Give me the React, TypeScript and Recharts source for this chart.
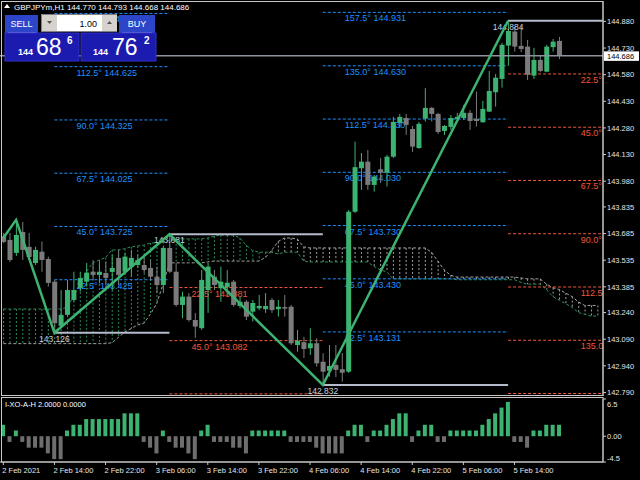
import React from 'react';
import { ComposedChart, Bar, Line, XAxis, YAxis, ReferenceLine, Cell } from 'recharts';

const FONT = '"Liberation Sans", Arial, sans-serif';
const GREEN = '#3cb371';
const GRAY = '#7b7b7b';
const CLOUD_GREEN = '#2e8b57';
const CLOUD_GRAY = '#a0a0a0';
const BLUE = '#1e90ff';
const RED = '#f0573a';
const LEVEL = '#b4bccb';
const TEXT = '#e4e4e4';
const FRAME = '#c8c8c8';

// GBPJPYm H1, one value per bar starting 2 Feb 2021 06:00
const opens = [
  143.669, 143.649, 143.576, 143.694, 143.610, 143.519, 143.583, 143.542, 143.414, 143.165,
  143.227, 143.311, 143.379, 143.414, 143.470, 143.452, 143.463, 143.469, 143.548, 143.470,
  143.499, 143.508, 143.508, 143.491, 143.442, 143.395, 143.604, 143.470, 143.283, 143.330,
  143.198, 143.152, 143.367, 143.442, 143.377, 143.383, 143.414, 143.277, 143.301, 143.245,
  143.264, 143.259, 143.311, 143.259, 143.271, 143.273, 143.057, 143.073, 143.039, 143.067,
  142.963, 142.912, 142.945, 142.921, 142.907, 143.808, 144.053, 144.090, 143.959, 144.047,
  144.028, 144.118, 144.308, 144.336, 144.274, 144.167, 144.332, 144.393, 144.359, 144.263,
  144.286, 144.331, 144.336, 144.365, 144.331, 144.312, 144.372, 144.481, 144.556, 144.744,
  144.823, 144.742, 144.738, 144.575, 144.663, 144.597, 144.735, 144.770,
];
const highs = [
  143.688, 143.688, 143.762, 143.751, 143.688, 143.611, 143.640, 143.555, 143.424, 143.367,
  143.424, 143.470, 143.470, 143.519, 143.536, 143.527, 143.527, 143.565, 143.593, 143.576,
  143.593, 143.565, 143.548, 143.536, 143.499, 143.611, 143.681, 143.519, 143.358, 143.350,
  143.238, 143.480, 143.519, 143.480, 143.499, 143.480, 143.424, 143.330, 143.311, 143.311,
  143.339, 143.350, 143.322, 143.311, 143.339, 143.283, 143.142, 143.104, 143.152, 143.095,
  143.011, 143.057, 143.057, 143.012, 143.818, 144.203, 144.139, 144.156, 144.015, 144.111,
  144.128, 144.342, 144.359, 144.359, 144.291, 144.314, 144.504, 144.398, 144.365, 144.297,
  144.353, 144.365, 144.410, 144.381, 144.485, 144.432, 144.601, 144.584, 144.759, 144.884,
  144.851, 144.851, 144.776, 144.731, 144.687, 144.748, 144.781, 144.793,
];
const lows = [
  143.632, 143.525, 143.559, 143.536, 143.536, 143.508, 143.470, 143.386, 143.126, 143.161,
  143.217, 143.301, 143.358, 143.386, 143.424, 143.405, 143.395, 143.367, 143.395, 143.452,
  143.442, 143.491, 143.463, 143.424, 143.350, 143.350, 143.463, 143.273, 143.208, 143.189,
  143.097, 143.142, 143.238, 143.367, 143.301, 143.330, 143.273, 143.264, 143.198, 143.189,
  143.254, 143.238, 143.238, 143.217, 143.217, 143.057, 143.020, 142.983, 143.001, 142.935,
  142.832, 142.879, 142.877, 142.851, 142.900, 143.801, 143.931, 143.931, 143.921, 143.970,
  143.950, 144.111, 144.280, 144.241, 144.145, 144.162, 144.316, 144.316, 144.246, 144.241,
  144.269, 144.325, 144.325, 144.269, 144.288, 144.310, 144.370, 144.400, 144.507, 144.631,
  144.710, 144.707, 144.550, 144.556, 144.594, 144.594, 144.710, 144.668,
];
const closes = [
  143.638, 143.536, 143.677, 143.593, 143.553, 143.593, 143.536, 143.407, 143.180, 143.227,
  143.367, 143.367, 143.435, 143.465, 143.452, 143.470, 143.435, 143.491, 143.452, 143.555,
  143.548, 143.536, 143.480, 143.442, 143.395, 143.604, 143.470, 143.283, 143.330, 143.198,
  143.161, 143.424, 143.499, 143.395, 143.414, 143.408, 143.283, 143.301, 143.217, 143.294,
  143.277, 143.277, 143.254, 143.273, 143.262, 143.067, 143.082, 143.035, 143.067, 142.954,
  142.907, 142.939, 142.917, 142.901, 143.808, 144.059, 144.090, 143.959, 144.006, 144.028,
  144.118, 144.314, 144.342, 144.297, 144.175, 144.303, 144.393, 144.359, 144.257, 144.291,
  144.336, 144.342, 144.365, 144.319, 144.319, 144.387, 144.488, 144.563, 144.748, 144.826,
  144.738, 144.725, 144.579, 144.663, 144.601, 144.738, 144.766, 144.686,
];

// Ichimoku cloud, shifted forward so it runs past the last candle
const spanA = [
  143.260, 143.260, 143.260, 143.260, 143.260, 143.260, 143.260, 143.260, 143.260, 143.260,
  143.270, 143.330, 143.400, 143.470, 143.520, 143.536, 143.550, 143.593, 143.593, 143.600,
  143.610, 143.615, 143.620, 143.632, 143.632, 143.640, 143.645, 143.650, 143.655, 143.655,
  143.655, 143.655, 143.660, 143.670, 143.677, 143.677, 143.677, 143.660, 143.620, 143.590,
  143.580, 143.580, 143.580, 143.570, 143.580, 143.580, 143.580, 143.530, 143.525, 143.525,
  143.525, 143.525, 143.525, 143.525, 143.525, 143.525, 143.525, 143.525, 143.500, 143.480,
  143.470, 143.430, 143.430, 143.430, 143.430, 143.430, 143.430, 143.430, 143.430, 143.430,
  143.430, 143.425, 143.425, 143.425, 143.425, 143.425, 143.425, 143.425, 143.425, 143.425,
  143.425, 143.410, 143.400, 143.400, 143.400, 143.370, 143.330, 143.310, 143.290, 143.270,
  143.240, 143.230, 143.220, 143.220,
];
const spanB = [
  143.065, 143.065, 143.065, 143.065, 143.065, 143.065, 143.065, 143.065, 143.065, 143.065,
  143.065, 143.065, 143.065, 143.065, 143.065, 143.065, 143.065, 143.070, 143.100, 143.130,
  143.150, 143.170, 143.180, 143.230, 143.290, 143.400, 143.520, 143.520, 143.520, 143.520,
  143.520, 143.520, 143.525, 143.530, 143.530, 143.530, 143.530, 143.530, 143.530, 143.530,
  143.530, 143.550, 143.590, 143.640, 143.660, 143.660, 143.655, 143.610, 143.604, 143.604,
  143.604, 143.604, 143.604, 143.604, 143.604, 143.604, 143.604, 143.604, 143.604, 143.604,
  143.604, 143.604, 143.604, 143.604, 143.604, 143.604, 143.604, 143.580, 143.530, 143.480,
  143.450, 143.440, 143.440, 143.440, 143.440, 143.440, 143.440, 143.440, 143.440, 143.440,
  143.440, 143.435, 143.430, 143.430, 143.430, 143.400, 143.380, 143.370, 143.350, 143.330,
  143.300, 143.280, 143.280, 143.280,
];

// I-XO-A-H histogram
const oscValues = [
  2, -1, 1, -1, -2, -2, -2, -3, -4, -4,
  1, 2, 2, 3, 3, 3, 3, 3, 3, 4,
  4, 4, -1, -2, -3, 1, -1, -2, -2, -3,
  -4, 1, 2, -1, -1, -1, -2, -2, -3, 1,
  1, 1, 1, 1, 1, -1, -1, -1, -1, -2,
  -3, -3, -3, -3, 1, 2, 2, -1, 1, 1,
  2, 3, 4, 4, -1, 1, 2, 2, -1, -1,
  1, 1, 1, 1, 1, 2, 3, 4, 5, 6,
  -1, -1, -2, 1, 1, 2, 2, 2,
];

// zigzag pivots
const pivotBars = [0, 2, 8, 26, 50, 79];
const pivotPrices = [143.660, 143.762, 143.126, 143.681, 142.832, 144.884];

// swing levels: from bar, to bar, price
const levelFrom = [8, 26, 50, 79];
const levelTo = [26, 50, 79, 93.8];
const levelPrices = [143.126, 143.681, 142.832, 144.884];

// gann fans
const gannAngles = ['22.5°', '45.0°', '67.5°', '90.0°', '112.5°', '135.0°', '157.5°'];
const gannUp1 = [143.425, 143.725, 144.025, 144.325, 144.625, 144.925];
const gannDown1 = [143.381, 143.082, 142.782];
const gannUp2 = [143.131, 143.430, 143.730, 144.030, 144.330, 144.630, 144.931];
const gannDown2 = [144.584, 144.284, 143.984, 143.684, 143.384, 143.084, 142.784];

const bidPrice = 144.686;
const priceTicks = [
  144.880, 144.730, 144.580, 144.430, 144.280, 144.130, 143.980, 143.835,
  143.685, 143.535, 143.385, 143.240, 143.090, 142.940, 142.790,
];
const oscTicks = [6.5, 0, -4.5];
const oscTickLabels = ['6.5', '0.00', '-4.5'];
const timeTickBars = [0, 8, 16, 24, 32, 40, 48, 56, 64, 72, 80];
const timeTickLabels = [
  '2 Feb 2021', '2 Feb 14:00', '2 Feb 22:00', '3 Feb 06:00', '3 Feb 14:00', '3 Feb 22:00',
  '4 Feb 06:00', '4 Feb 14:00', '4 Feb 22:00', '5 Feb 06:00', '5 Feb 14:00',
];

const X_DOMAIN: [number, number] = [-0.516, 93.85];
const PRICE_DOMAIN: [number, number] = [142.77, 144.995];

const rows = spanA.map((a, i) => {
  const p = pivotBars.indexOf(i);
  const has = i < opens.length;
  return {
    i,
    candle: has ? [lows[i], highs[i]] : null,
    open: has ? opens[i] : null,
    high: has ? highs[i] : null,
    low: has ? lows[i] : null,
    close: has ? closes[i] : null,
    cloud: [Math.min(a, spanB[i]), Math.max(a, spanB[i])],
    spanA: a,
    spanB: spanB[i],
    zz: p >= 0 ? pivotPrices[p] : null,
  };
});

const oscRows = oscValues.map((v, i) => ({ i, osc: v }));

const gannSets = [
  { from: 8, to: 26, values: gannUp1, color: BLUE, right: false },
  { from: 26, to: 50, values: gannDown1, color: RED, right: false },
  { from: 50, to: 79, values: gannUp2, color: BLUE, right: false },
  { from: 79, to: 93.8, values: gannDown2, color: RED, right: true },
];

const CandleShape = (props: any) => {
  const { x, y, width, height, payload } = props;
  if (!payload || payload.open == null) return null;
  const { open, close, high, low } = payload;
  const top = height >= 0 ? y : y + height;
  const h = Math.abs(height);
  const px = (v: number) => top + ((high - v) / (high - low || 1)) * h;
  const color = close >= open ? GREEN : GRAY;
  const cx = x + width / 2;
  const bTop = px(Math.max(open, close));
  const bBot = px(Math.min(open, close));
  return (
    <g>
      <line x1={cx} x2={cx} y1={top} y2={top + h} stroke={color} strokeWidth={1} />
      <rect x={x} y={bTop} width={width} height={Math.max(1, bBot - bTop)} fill={color} />
    </g>
  );
};

const CloudHatch = (props: any) => {
  const { x, y, width, height, payload } = props;
  if (!payload) return null;
  const top = height >= 0 ? y : y + height;
  const cx = x + width / 2;
  const color = payload.spanA >= payload.spanB ? CLOUD_GREEN : CLOUD_GRAY;
  return <line x1={cx} x2={cx} y1={top} y2={top + Math.abs(height)} stroke={color} strokeDasharray="2 2" />;
};

// labels of the last fan run into the price scale and get cut there
const gannLabel = (text: string, color: string, right: boolean) => (props: any) => {
  const vb = props.viewBox;
  if (!vb) return null;
  const tx = right ? vb.x + vb.width - 22 : vb.x + 22;
  return (
    <text x={tx} y={vb.y + 9} fill={color} fontSize={9} fontFamily={FONT}>
      {text}
    </text>
  );
};

const levelLabel = (text: string) => (props: any) => {
  const vb = props.viewBox;
  if (!vb) return null;
  return (
    <text x={vb.x} y={vb.y + 9} fill="#c8d0dc" fontSize={8.5} fontFamily={FONT} textAnchor="middle">
      {text}
    </text>
  );
};

const bidLabel = (props: any) => {
  const vb = props.viewBox;
  if (!vb) return null;
  const bx = vb.x + vb.width + 1;
  return (
    <g>
      <rect x={bx} y={vb.y - 4.5} width={35} height={9.5} fill="#ffffff" />
      <text x={bx + 3} y={vb.y + 3} fill="#000" fontSize={7.5} fontFamily={FONT}>
        {bidPrice.toFixed(3)}
      </text>
    </g>
  );
};

const PriceTick = (props: any) => {
  const { x, y, payload } = props;
  return (
    <text x={x} y={y} dy={2.8} fill={TEXT} fontSize={7.5} fontFamily={FONT} textAnchor="start">
      {Number(payload.value).toFixed(3)}
    </text>
  );
};

const OscTick = (props: any) => {
  const { x, y, payload } = props;
  const k = oscTicks.indexOf(payload.value);
  const shift = payload.value > 0 ? 5 : payload.value < 0 ? -4 : 0;
  return (
    <text x={x} y={y} dy={2.8 + shift} fill={TEXT} fontSize={7.5} fontFamily={FONT} textAnchor="start">
      {oscTickLabels[k]}
    </text>
  );
};

const TimeTick = (props: any) => {
  const { x, y, payload } = props;
  const k = timeTickBars.indexOf(payload.value);
  return (
    <text x={x - 1} y={y} dy={7} fill={TEXT} fontSize={7.5} fontFamily={FONT} textAnchor="start">
      {timeTickLabels[k]}
    </text>
  );
};

const layer: React.CSSProperties = { position: 'absolute', left: 0, top: 0 };

const TradePanel = () => (
  <svg width={160} height={64} style={layer}>
    <rect x={5} y={15} width={33} height={18} fill="#2d45c8" />
    <line x1={8} x2={36} y1={32.5} y2={32.5} stroke="#7787e0" />
    <text x={21.5} y={27} fill="#fff" fontSize={9} fontFamily={FONT} textAnchor="middle">SELL</text>
    <rect x={41.5} y={14.5} width={75} height={17} fill="#fff" stroke="#808080" />
    <rect x={42} y={15} width={15} height={16} fill="#d6d3ce" />
    <path d="M47 21 L52 21 L49.5 24 Z" fill="#555" />
    <rect x={102} y={15} width={15} height={16} fill="#d6d3ce" />
    <path d="M107 24 L112 24 L109.5 21 Z" fill="#555" />
    <text x={97} y={27} fill="#000" fontSize={9} fontFamily={FONT} textAnchor="end">1.00</text>
    <rect x={119} y={15} width={36} height={18} fill="#2d45c8" />
    <line x1={122} x2={152} y1={32.5} y2={32.5} stroke="#7787e0" />
    <text x={137} y={27} fill="#fff" fontSize={9} fontFamily={FONT} textAnchor="middle">BUY</text>
    <rect x={5} y={33} width={74} height={28} fill="#1b1bb0" stroke="#3030c8" />
    <text x={18} y={55} fill="#fff" fontSize={9} fontWeight="bold" fontFamily={FONT}>144</text>
    <text x={36} y={55} fill="#fff" fontSize={23} fontFamily={FONT}>68</text>
    <text x={67} y={44} fill="#fff" fontSize={10} fontWeight="bold" fontFamily={FONT}>6</text>
    <rect x={81} y={33} width={75} height={28} fill="#1b1bb0" stroke="#3030c8" />
    <text x={93} y={55} fill="#fff" fontSize={9} fontWeight="bold" fontFamily={FONT}>144</text>
    <text x={112} y={55} fill="#fff" fontSize={23} fontFamily={FONT}>76</text>
    <text x={144} y={44} fill="#fff" fontSize={10} fontWeight="bold" fontFamily={FONT}>2</text>
  </svg>
);

export default function App() {
  return (
    <div style={{ position: 'fixed', left: 0, top: 0, width: 640, height: 480, background: '#000', overflow: 'hidden' }}>
      {/* cloud + gann fans, clipped to the price window */}
      <div style={{ ...layer, width: 603, height: 396, overflow: 'hidden' }}>
        <ComposedChart width={640} height={396} data={rows} margin={{ top: 1, right: 37, bottom: 0, left: 0 }}>
          <XAxis dataKey="i" type="number" domain={X_DOMAIN} allowDataOverflow hide />
          <YAxis domain={PRICE_DOMAIN} allowDataOverflow hide />
          <Bar dataKey="cloud" barSize={1} shape={CloudHatch} isAnimationActive={false} />
          <Line dataKey="spanA" stroke={CLOUD_GREEN} strokeDasharray="3 2" dot={false} activeDot={false} isAnimationActive={false} />
          <Line dataKey="spanB" stroke={CLOUD_GRAY} strokeDasharray="3 2" dot={false} activeDot={false} isAnimationActive={false} />
          {gannSets.map((set, s) =>
            set.values.map((v, k) => (
              <ReferenceLine
                key={`g${s}-${k}`}
                segment={[{ x: set.from, y: v }, { x: set.to, y: v }]}
                stroke={set.color}
                strokeDasharray="3 2"
                label={gannLabel(`${gannAngles[k]} ${v.toFixed(3)}`, set.color, set.right)}
              />
            ))
          )}
        </ComposedChart>
      </div>

      {/* candles, zigzag, levels, price axis */}
      <div style={layer}>
        <ComposedChart width={640} height={396} data={rows} margin={{ top: 1, right: 0, bottom: 0, left: 0 }}>
          <XAxis dataKey="i" type="number" domain={X_DOMAIN} allowDataOverflow hide />
          <YAxis
            orientation="right"
            width={37}
            domain={PRICE_DOMAIN}
            allowDataOverflow
            ticks={priceTicks}
            interval={0}
            tick={<PriceTick />}
            tickSize={3}
            tickMargin={1}
            tickLine={{ stroke: FRAME }}
            axisLine={{ stroke: FRAME }}
          />
          <ReferenceLine y={bidPrice} stroke="#8c939c" strokeWidth={1.5} label={bidLabel} />
          {levelPrices.map((v, k) => (
            <ReferenceLine
              key={`l${k}`}
              segment={[{ x: levelFrom[k], y: v }, { x: levelTo[k], y: v }]}
              stroke={LEVEL}
              strokeWidth={2}
              label={levelLabel(v.toFixed(3))}
            />
          ))}
          <Bar dataKey="candle" barSize={5} shape={CandleShape} isAnimationActive={false} />
          <Line dataKey="zz" connectNulls stroke={GREEN} strokeWidth={2.5} dot={false} activeDot={false} isAnimationActive={false} />
        </ComposedChart>
      </div>

      {/* indicator window */}
      <div style={{ position: 'absolute', left: 0, top: 398 }}>
        <ComposedChart width={640} height={82} data={oscRows} margin={{ top: 1, right: 0, bottom: 0, left: 0 }}>
          <XAxis
            dataKey="i"
            type="number"
            domain={X_DOMAIN}
            allowDataOverflow
            ticks={timeTickBars}
            interval={0}
            height={18}
            tick={<TimeTick />}
            tickSize={3}
            tickMargin={1}
            tickLine={{ stroke: FRAME }}
            axisLine={{ stroke: FRAME }}
          />
          <YAxis
            orientation="right"
            width={37}
            domain={[-4.5, 6.5]}
            allowDataOverflow
            ticks={oscTicks}
            interval={0}
            tick={<OscTick />}
            tickSize={3}
            tickMargin={1}
            tickLine={{ stroke: FRAME }}
            axisLine={{ stroke: FRAME }}
          />
          <Bar dataKey="osc" barSize={4} isAnimationActive={false}>
            {oscRows.map((r) => (
              <Cell key={r.i} fill={r.osc > 0 ? GREEN : '#6e6e6e'} />
            ))}
          </Bar>
        </ComposedChart>
      </div>

      {/* window frames and captions */}
      <svg width={640} height={480} style={{ ...layer, pointerEvents: 'none' }}>
        <rect x={1.5} y={1.5} width={601.5} height={394} fill="none" stroke={FRAME} />
        <rect x={1.5} y={397.5} width={601.5} height={64.5} fill="none" stroke={FRAME} />
        <path d="M4 8 L7 4 L10 8 Z" fill="#fff" />
        <text x={14} y={10} fill="#fff" fontSize={8} fontFamily={FONT}>
          GBPJPYm,H1  144.770 144.793 144.668 144.686
        </text>
        <text x={5} y={407} fill="#fff" fontSize={7.5} fontFamily={FONT}>
          I-XO-A-H 2.0000 0.0000
        </text>
      </svg>
      <TradePanel />
    </div>
  );
}
